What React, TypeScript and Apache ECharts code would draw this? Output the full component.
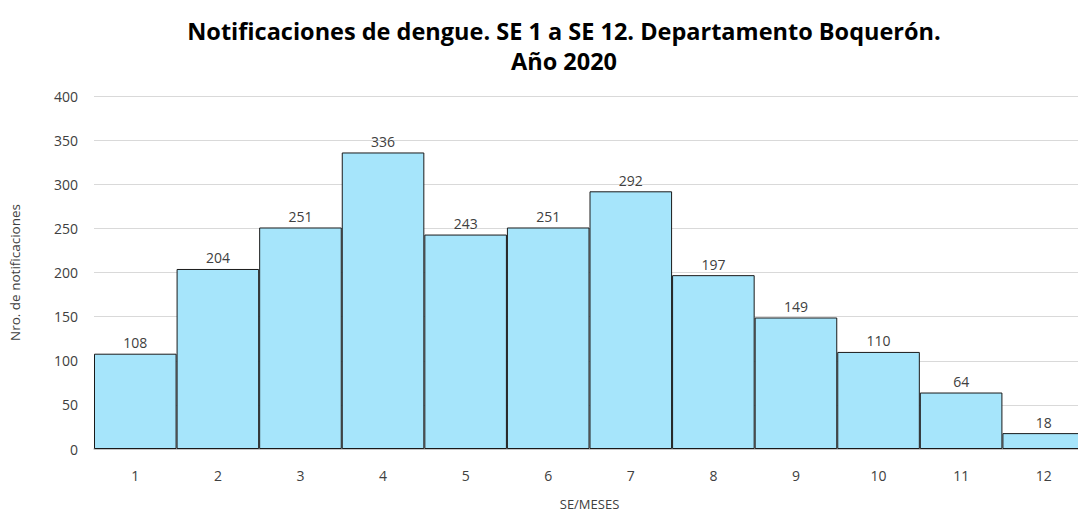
import React, { useEffect, useRef } from "react";
import * as echarts from "echarts";

const categories = ["1", "2", "3", "4", "5", "6", "7", "8", "9", "10", "11", "12"];
const values = [108, 204, 251, 336, 243, 251, 292, 197, 149, 110, 64, 18];
const titleLines = ["Notificaciones de dengue. SE 1 a SE 12. Departamento Boquerón.", "Año 2020"];
const yAxisName = "Nro. de notificaciones";
const xAxisName = "SE/MESES";

const FONT = "'Open Sans', 'Noto Sans', sans-serif";

export default function App() {
  const ref = useRef<HTMLDivElement>(null);
  useEffect(() => {
    if (!ref.current) return;
    const chart = echarts.init(ref.current, null, { renderer: "svg" });
    chart.setOption({
      animation: false,
      backgroundColor: "#ffffff",
      title: {
        text: titleLines.join("\n"),
        left: 559,
        top: 11,
        textAlign: "center",
        textStyle: { fontFamily: FONT, fontWeight: "bold", fontSize: 23.5, color: "#000000", lineHeight: 30 },
      },
      grid: { left: 92, right: 0, top: 96, bottom: 63 },
      xAxis: {
        type: "category",
        data: categories,
        name: xAxisName,
        nameLocation: "middle",
        nameGap: 48,
        nameTextStyle: { fontFamily: FONT, fontSize: 13, color: "#404040" },
        axisLine: { lineStyle: { color: "#bfbfbf", width: 1.5 } },
        axisTick: { show: false },
        axisLabel: { fontFamily: FONT, fontSize: 14, color: "#404040", margin: 19 },
      },
      yAxis: {
        type: "value",
        min: 0,
        max: 400,
        interval: 50,
        name: yAxisName,
        nameLocation: "middle",
        nameGap: 72,
        nameTextStyle: { fontFamily: FONT, fontSize: 13.5, color: "#404040" },
        axisLine: { show: false },
        axisTick: { show: false },
        axisLabel: { fontFamily: FONT, fontSize: 14, color: "#404040", margin: 16 },
        splitLine: { lineStyle: { color: "#d9d9d9", width: 1 } },
      },
      series: [
        {
          type: "bar",
          data: values,
          barCategoryGap: "0%",
          itemStyle: { color: "#a6e5fb", borderColor: "#1a1a1a", borderWidth: 1 },
          label: {
            show: true,
            position: "top",
            distance: 4,
            fontFamily: FONT,
            fontSize: 14,
            color: "#404040",
          },
        },
      ],
    });
    return () => chart.dispose();
  }, []);
  return (
    <div style={{ position: "absolute", left: 0, top: 0, width: 1078, height: 515, overflow: "hidden" }}>
      <div ref={ref} style={{ width: 1085, height: 515 }} />
    </div>
  );
}
